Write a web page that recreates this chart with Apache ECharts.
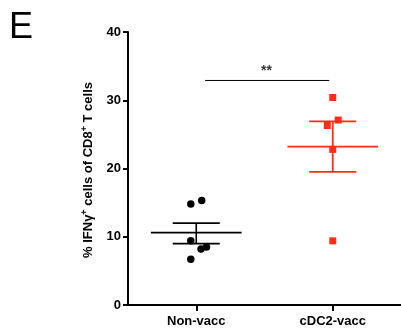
<!DOCTYPE html>
<html><head><meta charset="utf-8">
<script src="https://cdn.jsdelivr.net/npm/echarts@6/dist/echarts.min.js"></script>
<style>html,body{margin:0;padding:0;background:#fff}#c{width:401px;height:331px}</style>
</head><body><div id="c"></div>
<script>
// Data
const categories = ['Non-vacc', 'cDC2-vacc'];
const categoryPos = [1, 3];
const nonVaccValues = [14.8, 15.3, 9.4, 8.2, 8.5, 6.7];
const nonVaccJitter = [-0.08, 0.08, -0.08, 0.07, 0.15, -0.08];
const cdc2Values = [30.4, 27.1, 26.3, 22.8, 9.4];
const cdc2Jitter = [0, 0.08, -0.08, 0, 0];
const means = [10.6, 23.2];
const semUpper = [12.0, 26.9];
const semLower = [9.0, 19.5];
const sigY = 32.9;
const sigLabel = '**';
const yTicks = [0, 10, 20, 30, 40];

const RED = '#ff2d14';
const font = '"Liberation Sans", Arial, sans-serif';

const chart = echarts.init(document.getElementById('c'), null, {renderer: 'canvas'});

function pts(vals, jit, pos) { return vals.map((v, i) => [pos + jit[i], v]); }

const errData = categories.map((c, i) => [categoryPos[i], means[i], semLower[i], semUpper[i], i]);

chart.setOption({
  animation: false,
  grid: {left: 128, right: -3, top: 32, bottom: 26, containLabel: false},
  xAxis: {
    type: 'value', min: 0, max: 4,
    axisLine: {lineStyle: {color: '#000', width: 2}},
    axisTick: {show: true, length: 6, lineStyle: {color: '#000', width: 2}, customValues: categoryPos},
    axisLabel: {
      customValues: categoryPos, margin: 10,
      formatter: v => categories[categoryPos.indexOf(v)] || '',
      color: '#000', fontFamily: font, fontWeight: 'bold', fontSize: 13
    },
    splitLine: {show: false}
  },
  yAxis: {
    type: 'value', min: 0, max: 40, interval: 10,
    axisLine: {show: true, lineStyle: {color: '#000', width: 2}},
    axisTick: {show: true, length: 5, lineStyle: {color: '#000', width: 2}},
    axisLabel: {color: '#000', fontFamily: font, fontWeight: 'bold', fontSize: 13, margin: 7,
      formatter: v => yTicks.includes(v) ? String(v) : ''},
    splitLine: {show: false}
  },
  graphic: [
    {type: 'text', left: 9, top: 10, style: {text: 'E', font: '36px ' + font, fill: '#000'}},
    {type: 'text', x: 88, y: 170, rotation: Math.PI / 2,
      style: {
        text: '{n|% IFN\u03b3}{s|+}{n| cells of CD8}{s|+}{n| T cells}',
        align: 'center', verticalAlign: 'middle',
        rich: {
          n: {fontFamily: font, fontWeight: 'bold', fontSize: 13, fill: '#000'},
          s: {fontFamily: font, fontWeight: 'bold', fontSize: 9, fill: '#000', verticalAlign: 'top', padding: [0, 0, 6, 0]}
        }
      }}
  ],
  series: [
    {
      type: 'custom', data: errData, z: 3,
      renderItem: function (params, api) {
        const x = api.value(0), m = api.value(1), lo = api.value(2), hi = api.value(3), i = api.value(4);
        const col = i === 0 ? '#000' : RED;
        const w = i === 0 ? 1.6 : 1.8;
        const pm1 = api.coord([x - 0.665, m]), pm2 = api.coord([x + 0.665, m]);
        const ph1 = api.coord([x - 0.345, hi]), ph2 = api.coord([x + 0.345, hi]);
        const pl1 = api.coord([x - 0.345, lo]), pl2 = api.coord([x + 0.345, lo]);
        const pv1 = api.coord([x, hi]), pv2 = api.coord([x, lo]);
        const st = {stroke: col, lineWidth: w};
        return {type: 'group', children: [
          {type: 'line', shape: {x1: pm1[0], y1: pm1[1], x2: pm2[0], y2: pm2[1]}, style: st},
          {type: 'line', shape: {x1: ph1[0], y1: ph1[1], x2: ph2[0], y2: ph2[1]}, style: st},
          {type: 'line', shape: {x1: pl1[0], y1: pl1[1], x2: pl2[0], y2: pl2[1]}, style: st},
          {type: 'line', shape: {x1: pv1[0], y1: pv1[1], x2: pv2[0], y2: pv2[1]}, style: st}
        ]};
      }
    },
    {
      type: 'scatter', symbol: 'circle', symbolSize: 7.5, z: 4,
      itemStyle: {color: '#000', opacity: 1},
      data: pts(nonVaccValues, nonVaccJitter, categoryPos[0])
    },
    {
      type: 'scatter', symbol: 'rect', symbolSize: 7, z: 4,
      itemStyle: {color: RED, opacity: 1},
      data: pts(cdc2Values, cdc2Jitter, categoryPos[1])
    },
    {
      type: 'line', symbol: 'none', z: 2,
      lineStyle: {color: '#000', width: 1},
      data: [[categoryPos[0] + 0.13, sigY], [categoryPos[1] - 0.05, sigY]]
    },
    {
      type: 'scatter', symbolSize: 0, z: 5,
      data: [[(categoryPos[0] + categoryPos[1]) / 2 + 0.03, sigY]],
      label: {show: true, formatter: sigLabel, position: 'top', distance: 2, color: '#000',
        fontFamily: font, fontWeight: 'bold', fontSize: 14}
    }
  ]
});
</script></body></html>
